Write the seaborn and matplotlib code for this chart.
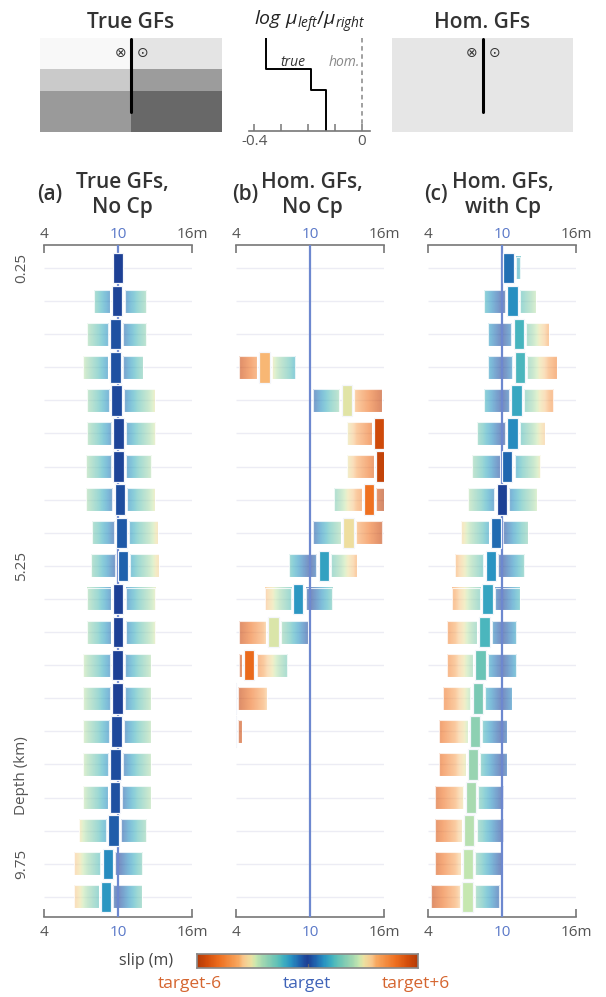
import numpy as np
import matplotlib
matplotlib.use("Agg")
import matplotlib.pyplot as plt
from matplotlib.colors import LinearSegmentedColormap, Normalize
from matplotlib.patches import Rectangle
from matplotlib.transforms import blended_transform_factory
import seaborn as sns

# ---------------------------------------------------------------- data
TARGET = 10.0
nan = np.nan
rows = np.arange(20)

depth_tick_rows = [0, 9, 18]
depth_tick_labels = ["0.25", "5.25", "9.75"]

slip_ticks = [4, 10, 16]
slip_tick_labels = ["4", "10", "16m"]

# (a) true Green's functions, no Cp
a_lo = [10.0, 8.1, 7.5, 7.2, 7.5, 7.5, 7.4, 7.4, 7.9, 7.8,
        7.5, 7.5, 7.16, 7.16, 7.16, 7.16, 7.16, 6.86, 6.46, 6.46]
a_mean = [10.0, 9.95, 9.8, 9.8, 9.9, 10.05, 10.05, 10.15, 10.3, 10.4,
          10.03, 10.03, 9.98, 9.98, 9.9, 9.82, 9.77, 9.66, 9.18, 9.04]
a_hi = [10.0, 12.3, 12.3, 12.0, 13.0, 13.0, 12.7, 13.0, 13.2, 13.3,
        13.0, 13.0, 12.64, 12.64, 12.64, 12.64, 12.64, 12.3, 11.97, 11.97]

# (b) homogeneous Green's functions, no Cp
b_lo = [nan, nan, nan, 4.3, 10.27, 12.97, 12.97, 11.94, 10.27, 8.34,
        6.35, 4.3, 4.3, 3.6, 3.6, nan, nan, nan, nan, nan]
b_mean = [nan, nan, nan, 6.35, 12.97, 15.57, 15.73, 14.77, 13.1, 11.12,
          9.06, 7.06, 5.11, 3.6, 3.6, nan, nan, nan, nan, nan]
b_hi = [nan, nan, nan, 8.82, 15.81, 15.57, 15.73, 16.08, 15.8, 13.77,
        11.78, 9.82, 8.18, 6.5, 4.5, nan, nan, nan, nan, nan]

# (c) homogeneous Green's functions, with Cp
c_lo = [10.52, 8.56, 8.9, 8.9, 8.56, 7.97, 7.61, 7.29, 6.7, 6.2,
        5.95, 5.6, 5.6, 5.27, 4.93, 4.93, 4.6, 4.6, 4.6, 4.26]
c_mean = [10.52, 10.87, 11.37, 11.44, 11.19, 10.84, 10.43, 10.0, 9.52, 9.1,
          8.85, 8.58, 8.26, 8.05, 7.83, 7.67, 7.49, 7.37, 7.27, 7.21]
c_hi = [11.46, 12.75, 13.8, 14.42, 14.15, 13.45, 13.07, 12.8, 12.1, 11.8,
        11.46, 11.14, 11.14, 10.79, 10.44, 10.44, 10.11, 10.11, 10.11, 9.79]

# rigidity contrast profile (layer tops/bottoms in km, log mu_left/mu_right)
layer_edges = [0.0, 3.3, 5.6, 10.0]
log_mu_ratio = [-0.357, -0.19, -0.135]

# ---------------------------------------------------------------- style
sns.set_theme(style="white")
plt.rcParams["font.family"] = ["Open Sans", "DejaVu Sans"]
plt.rcParams["axes.unicode_minus"] = False
plt.rcParams["mathtext.fontset"] = "custom"
plt.rcParams["mathtext.it"] = "Open Sans:italic"
plt.rcParams["mathtext.rm"] = "Open Sans"

W, H = 606, 997
fig = plt.figure(figsize=(W / 100, H / 100), dpi=100)
fig.patch.set_facecolor("white")


def px_axes(x0, y0, x1, y1):
    return fig.add_axes([x0 / W, 1 - y1 / H, (x1 - x0) / W, (y1 - y0) / H])


def ftext(x, y, s, **kw):
    fig.text(x / W, 1 - y / H, s, **kw)


# diverging map for slip relative to the target (symmetric about target)
frac = [0.00, 0.07, 0.15, 0.22, 0.27, 0.33, 0.42, 0.47, 0.51, 0.58, 0.63, 0.80, 0.92, 1.00]
cols = ["#1d3e94", "#2063ae", "#2892c2", "#3fb0c0", "#5ec0b8", "#7ccab4", "#a8dab0",
        "#c8e8b0", "#ece2a2", "#f8c98e", "#f8a860", "#ef7020", "#d24c0a", "#b53c08"]
stops = [(0.5 - f / 2, c) for f, c in zip(frac[::-1], cols[::-1])] + \
        [(0.5 + f / 2, c) for f, c in zip(frac[1:], cols[1:])]
cmap = LinearSegmentedColormap.from_list("slipdev", stops)
norm = Normalize(-6, 6)

TXT = "#333333"
TICK = "#555555"
BLUE = "#6d88cf"

BAR_W = 0.84
BAR_H = 0.92
BOX_H = 0.69
GAP = 0.18


def gradient_box(ax, x0, x1, yc):
    if not (x1 - x0 > 0):
        return
    xs = np.linspace(x0, x1, 80)
    rgba = cmap(norm(xs - TARGET))
    rgba[:, 3] = 0.6
    ax.imshow(rgba[np.newaxis], extent=[x0, x1, yc + BOX_H / 2, yc - BOX_H / 2],
              aspect="auto", interpolation="bilinear", zorder=2)
    ax.add_patch(Rectangle((x0, yc - BOX_H / 2), x1 - x0, BOX_H, fill=False,
                           ec="white", lw=0.8, alpha=0.8, zorder=2.1))


def slip_panel(x0, lo, mean, hi):
    ax = px_axes(x0, 245, x0 + 148.8, 917)
    lo, mean, hi = map(np.asarray, (lo, mean, hi))
    ax.hlines(rows, 4, 16, color="#ececf4", lw=1.0, zorder=1)
    for r, l, m, h in zip(rows, lo, mean, hi):
        if np.isnan(m):
            continue
        gradient_box(ax, l, m - BAR_W / 2 - GAP, r)
        gradient_box(ax, m + BAR_W / 2 + GAP, h, r)
    ax.axvline(TARGET, color=BLUE, lw=1.6, zorder=3)
    ok = ~np.isnan(mean)
    ax.bar(mean[ok], BAR_H, width=BAR_W, bottom=rows[ok] - BAR_H / 2,
           color=cmap(norm(mean[ok] - TARGET)), edgecolor="#f4f6fb", linewidth=0.9, zorder=4)
    ax.set_xlim(4, 16)
    ax.set_ylim((917 - 268) / 33.1, (245 - 268) / 33.1)
    ax.set_yticks([])
    for s in ["left", "right", "top"]:
        ax.spines[s].set_visible(False)
    ax.spines["bottom"].set_color("#777777")
    ax.spines["bottom"].set_linewidth(1.2)
    ax.set_xticks(slip_ticks, labels=slip_tick_labels)
    ax.tick_params(axis="x", bottom=True, direction="in", length=6, width=1.2,
                   color="#777777", labelsize=11, labelcolor=TICK, pad=6)
    sec = ax.secondary_xaxis("top")
    sec.set_xticks(slip_ticks, labels=slip_tick_labels)
    sec.tick_params(axis="x", direction="in", length=6, width=1.2, color="#777777",
                    labelsize=11, labelcolor=TICK, pad=2)
    sec.spines["top"].set_color("#777777")
    sec.spines["top"].set_linewidth(1.2)
    for t in ax.get_xticklabels() + sec.get_xticklabels():
        if t.get_text() == "10":
            t.set_color("#5a78c8")
    return ax


ax_a = slip_panel(43.5, a_lo, a_mean, a_hi)
ax_b = slip_panel(235.5, b_lo, b_mean, b_hi)
ax_c = slip_panel(427.5, c_lo, c_mean, c_hi)

# depth annotation on the left of panel (a)
trans = blended_transform_factory(fig.transFigure, ax_a.transData)
for r, lab in zip(depth_tick_rows, depth_tick_labels):
    ax_a.text(22 / W, r, lab, transform=trans, rotation=90, ha="center", va="center",
              fontsize=11, color=TICK)
ax_a.text(22 / W, 15.35, "Depth (km)", transform=trans, rotation=90, ha="center",
          va="center", fontsize=11, color=TICK)

# panel titles
for cx, lx, tag, l1, l2 in [(122, 50, "(a)", "True GFs,", "No Cp"),
                            (312, 245, "(b)", "Hom. GFs,", "No Cp"),
                            (503, 436, "(c)", "Hom. GFs,", "with Cp")]:
    ftext(lx, 200, tag, ha="center", va="baseline", fontsize=15, weight="semibold", color=TXT)
    ftext(cx, 188, l1, ha="center", va="baseline", fontsize=15, weight="semibold", color=TXT)
    ftext(cx, 213, l2, ha="center", va="baseline", fontsize=15, weight="semibold", color=TXT)

# ---------------------------------------------------------------- fault sketches
greys_left = ["#f8f8f8", "#cacaca", "#9a9a9a"]
greys_right = ["#e4e4e4", "#9c9c9c", "#686868"]


def fault_sketch(x0, x1, left, right, title):
    ax = px_axes(x0, 38, x1, 132)
    for i in range(3):
        ax.add_patch(Rectangle((0, layer_edges[i]), 0.5, layer_edges[i + 1] - layer_edges[i],
                               color=left[i], lw=0))
        ax.add_patch(Rectangle((0.5, layer_edges[i]), 0.5, layer_edges[i + 1] - layer_edges[i],
                               color=right[i], lw=0))
    ax.plot([0.5, 0.5], [0.1, 7.9], color="black", lw=2.2)
    ax.text(0.44, 1.6, "\u2297", ha="center", va="center", fontsize=10, color=TXT,
            family="DejaVu Sans")
    ax.text(0.565, 1.6, "\u2299", ha="center", va="center", fontsize=10, color=TXT,
            family="DejaVu Sans")
    ax.set_xlim(0, 1)
    ax.set_ylim(10, 0)
    ax.set_axis_off()
    ftext((x0 + x1) / 2, 22, title, ha="center", va="center", fontsize=15,
          weight="semibold", color=TXT)


fault_sketch(40, 222, greys_left, greys_right, "True GFs")
fault_sketch(392, 573, ["#e6e6e6"] * 3, ["#e6e6e6"] * 3, "Hom. GFs")

# rigidity-contrast profile
mid = px_axes(249, 38, 370, 131)
step_x, step_y = [], []
for i, v in enumerate(log_mu_ratio):
    step_x += [v, v]
    step_y += [layer_edges[i], layer_edges[i + 1]]
sns.lineplot(x=step_x, y=step_y, sort=False, estimator=None, color="black", lw=1.4, ax=mid)
mid.plot([0, 0], [0, 10], color="#999999", lw=1.3, ls=(0, (2.5, 2)))
mid.set_xlim(-0.42, 0.03)
mid.set_ylim(10, 0)
mid.set_xlabel("")
mid.set_ylabel("")
mid.set_yticks([])
for s in ["left", "right", "top"]:
    mid.spines[s].set_visible(False)
mid.spines["bottom"].set_color("#777777")
mid.spines["bottom"].set_linewidth(1.2)
mid.set_xticks([-0.4, -0.3, -0.2, -0.1, 0.0], labels=["-0.4", "", "", "", "0"])
mid.tick_params(axis="x", bottom=True, direction="in", length=5, width=1.1,
                color="#777777", labelsize=11, labelcolor=TICK, pad=2)
ftext(310, 22, r"$log\ \mu_{left}/\mu_{right}$", ha="center", va="center", fontsize=14,
      color="#222222")
ftext(293, 62, "true", ha="center", va="center", fontsize=10, style="italic", color=TXT)
ftext(344, 62, "hom.", ha="center", va="center", fontsize=10, style="italic", color="#888888")

# ---------------------------------------------------------------- colour bar
cax = px_axes(197, 954, 418, 968)
grad = np.linspace(-6, 6, 300)
cax.imshow(cmap(norm(grad))[np.newaxis], extent=[-6, 6, 0, 1], aspect="auto")
cax.set_xticks([])
cax.set_yticks([])
for s in cax.spines.values():
    s.set_visible(True)
    s.set_color("#888888")
    s.set_linewidth(1.2)
cax.plot([0, 0], [0, 0.3], color="#666666", lw=1)
ftext(146, 961, "slip (m)", ha="center", va="center", fontsize=11.5, color="#444444")
ftext(190, 984, "target-6", ha="center", va="center", fontsize=12.5, color="#d5652f")
ftext(307, 984, "target", ha="center", va="center", fontsize=12.5, color="#3f63b8")
ftext(416, 984, "target+6", ha="center", va="center", fontsize=12.5, color="#d5652f")

fig.savefig("out.png", dpi=100, facecolor="white")
